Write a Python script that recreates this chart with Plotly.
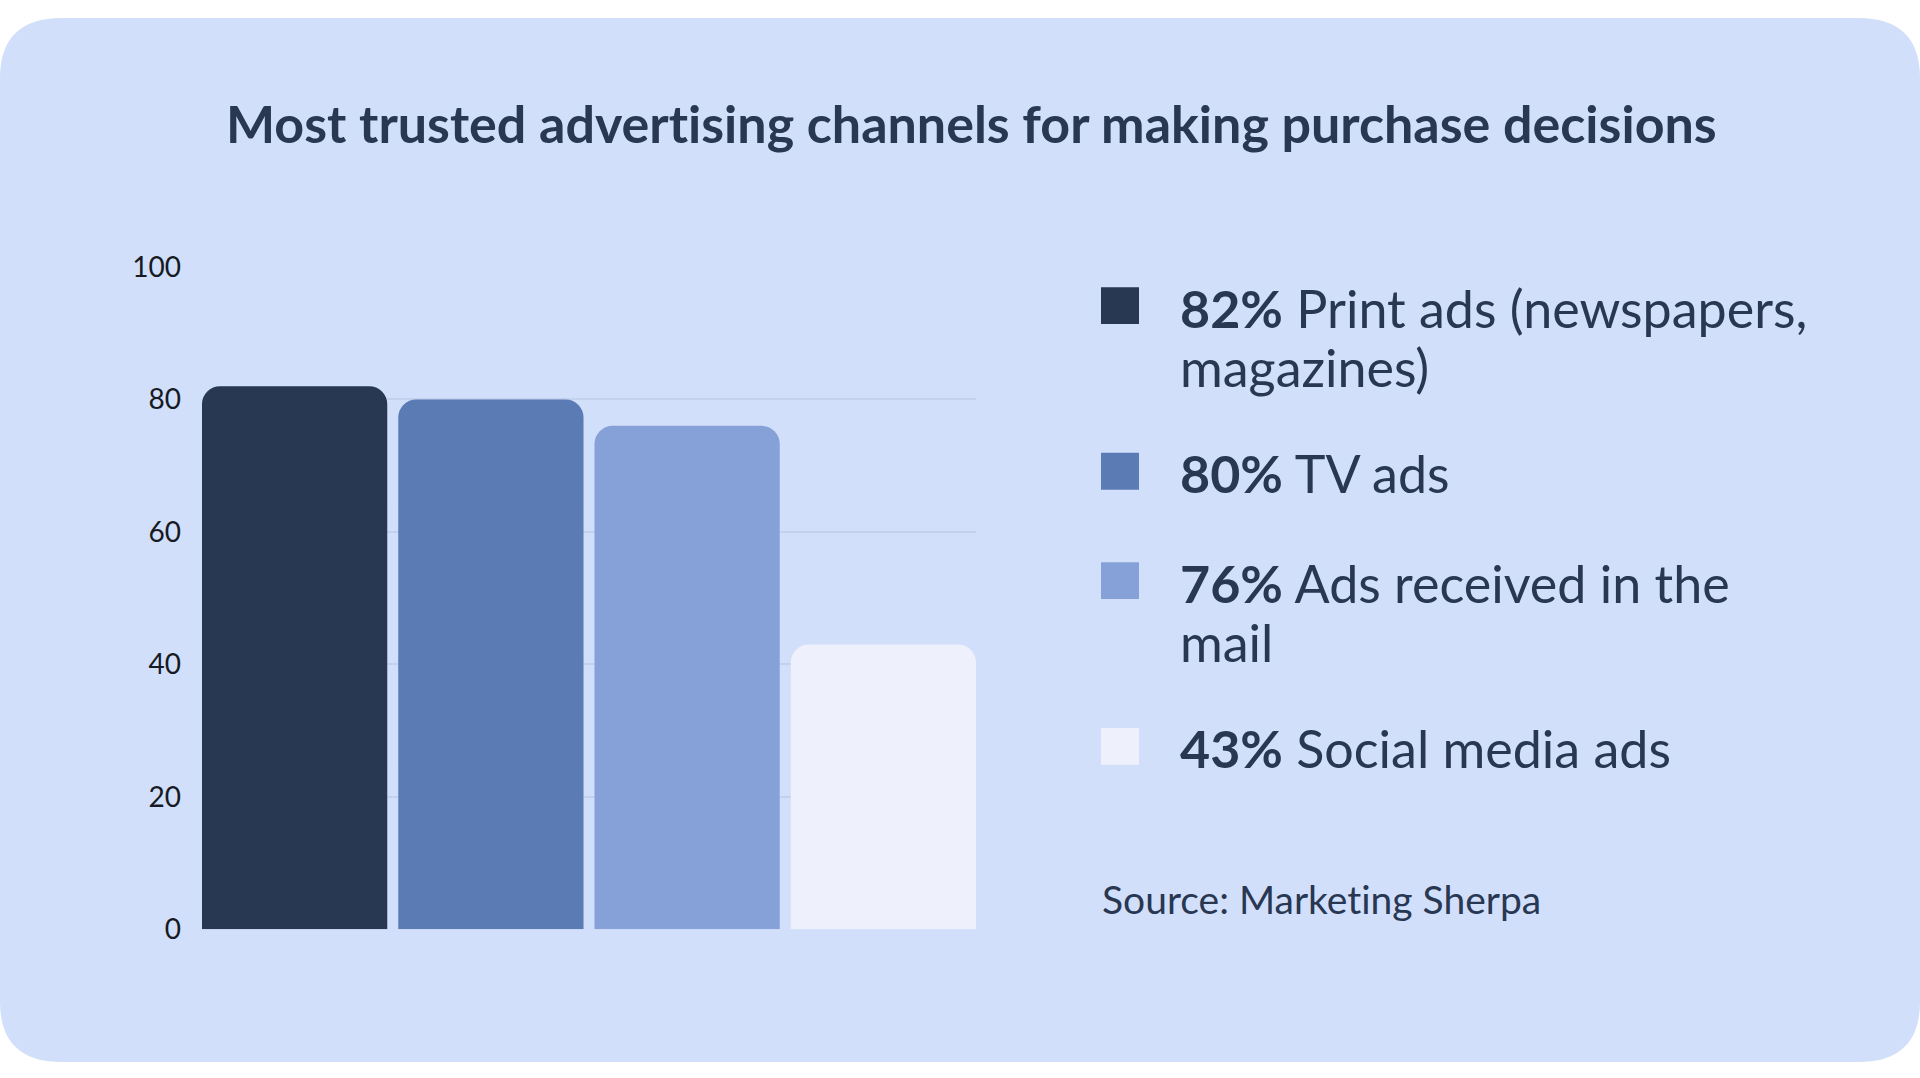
import textwrap
import plotly.graph_objects as go

# chart data
channels = ["Print ads (newspapers, magazines)", "TV ads", "Ads received in the mail", "Social media ads"]
trust_pct = [82, 80, 76, 43]
bar_colors = ["#283752", "#5b7bb4", "#86a1d7", "#eef0fb"]
y_ticks = [0, 20, 40, 60, 80, 100]
title_text = "Most trusted advertising channels for making purchase decisions"
source_text = "Source: Marketing Sherpa"

W, H = 1920, 1078
BG = "#d2dffa"
INK = "#283752"
FONT = "Lato"

bargap = 0.056


def px_x(v):
    return v / W


def px_y(v):
    # pixels from top -> paper fraction
    return 1 - v / H


def no_lig(s):
    # stop Lato from joining "ti" into a ligature
    return s.replace("ti", "t\u200ci")


fig = go.Figure()
fig.add_trace(go.Bar(
    x=list(range(len(channels))),
    y=trust_pct,
    marker=dict(color=bar_colors, line=dict(width=0), cornerradius=18),
    hoverinfo="skip",
    showlegend=False,
))

# card background with rounded corners
r = 62
rx, ry = r / W, r / H
card = (f"M {rx},0 L {1-rx},0 Q 1,0 1,{ry} L 1,{1-ry} Q 1,1 {1-rx},1 "
        f"L {rx},1 Q 0,1 0,{1-ry} L 0,{ry} Q 0,0 {rx},0 Z")
shapes = [dict(type="path", path=card, xref="paper", yref="paper",
               fillcolor=BG, line=dict(width=0), layer="below")]

annotations = [dict(
    text=f"<b>{no_lig(title_text)}</b>", x=px_x(971), y=px_y(108), xref="paper", yref="paper",
    xanchor="center", yanchor="middle", showarrow=False,
    font=dict(family=FONT, size=52, color=INK),
)]

# custom legend on the right
sq = 38
line_step = 61
y_c = 297
for name, pct, col in zip(channels, trust_pct, bar_colors):
    lines = textwrap.wrap(f"{pct}% {name}", width=26)
    lines[0] = lines[0].replace(f"{pct}%", f"<b>{pct}%</b>", 1)
    shapes.append(dict(
        type="rect", xref="paper", yref="paper",
        x0=px_x(1101), x1=px_x(1101 + sq), y0=px_y(y_c + sq / 2), y1=px_y(y_c - sq / 2),
        fillcolor=col, line=dict(width=0),
    ))
    for i, ln in enumerate(lines):
        annotations.append(dict(
            text=ln, x=px_x(1178), y=px_y(y_c + 2 + i * line_step),
            xref="paper", yref="paper", xanchor="left", yanchor="middle", align="left",
            showarrow=False, font=dict(family=FONT, size=52, color=INK),
        ))
    y_c += 113 + 58 * (len(lines) - 1)

annotations.append(dict(
    text=no_lig(source_text), x=px_x(1100), y=px_y(910), xref="paper", yref="paper",
    xanchor="left", yanchor="middle", showarrow=False,
    font=dict(family=FONT, size=39, color=INK),
))

fig.update_layout(
    autosize=True,
    margin=dict(l=0, r=0, t=0, b=0),
    paper_bgcolor="white",
    plot_bgcolor="rgba(0,0,0,0)",
    bargap=bargap,
    shapes=shapes,
    annotations=annotations,
    xaxis=dict(
        domain=[px_x(202), px_x(976)],
        range=[-0.5 + bargap / 2, len(channels) - 0.5 - bargap / 2],
        showticklabels=False, showgrid=False, zeroline=False, fixedrange=True,
    ),
    yaxis=dict(
        domain=[px_y(941), px_y(257)],
        range=[0, 100], tickvals=y_ticks,
        showgrid=True, gridcolor="#c3d1ec", gridwidth=1.5, zeroline=False,
        ticks="", ticklabelstandoff=20,
        tickfont=dict(family=FONT, size=28, color="#151a24"),
        fixedrange=True,
    ),
)

# let the figure fill the whole window
pin = ("document.body.style.margin='0';document.body.style.overflow='hidden';"
       "var gd=document.getElementById('{plot_id}');"
       "gd.style.position='fixed';gd.style.top='0';gd.style.left='0';"
       "Plotly.Plots.resize(gd);")
fig.write_html("out.html", config={"displayModeBar": False, "responsive": True},
               default_width="100vw", default_height="100vh", post_script=pin)
